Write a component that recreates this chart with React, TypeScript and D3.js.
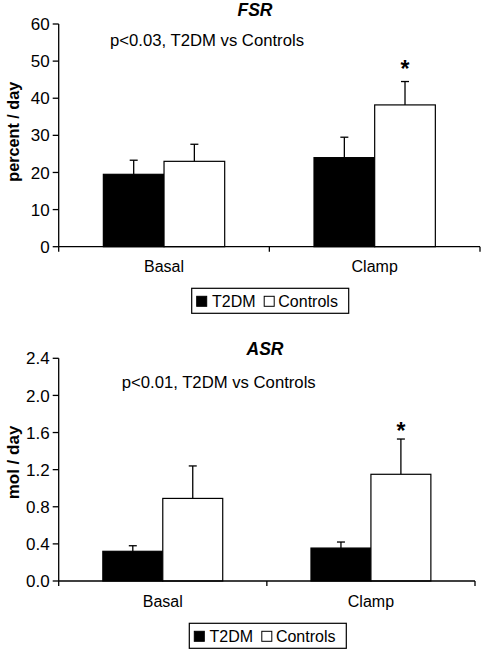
import React from "react";
import * as d3 from "d3";

const categories = ["Basal", "Clamp"];
const seriesNames = ["T2DM", "Controls"];

const fsrT2DM = [19.5, 24.0];
const fsrT2DMErr = [3.8, 5.5];
const fsrControls = [23.0, 38.2];
const fsrControlsErr = [4.6, 6.3];
const fsrTicks = [0, 10, 20, 30, 40, 50, 60];

const asrT2DM = [0.32, 0.355];
const asrT2DMErr = [0.06, 0.065];
const asrControls = [0.89, 1.15];
const asrControlsErr = [0.35, 0.38];
const asrTicks = [0, 0.4, 0.8, 1.2, 1.6, 2.0, 2.4];

const FONT = "Liberation Sans, Arial, sans-serif";

type PanelProps = {
  top: number;
  bottom: number;
  left: number;
  right: number;
  yMax: number;
  ticks: number[];
  tickFmt: (v: number) => string;
  title: string;
  titleX: number;
  titleY: number;
  yLabel: string;
  yLabelY: number;
  yLabelSize: number;
  note: string;
  noteX: number;
  noteY: number;
  catY: number;
  legendX: number;
  legendY: number;
  t2dm: number[];
  t2dmErr: number[];
  controls: number[];
  controlsErr: number[];
  starIndex: number;
  starDy: number;
};

function Panel(p: PanelProps) {
  const y = d3.scaleLinear().domain([0, p.yMax]).range([p.bottom, p.top]);
  const x0 = d3.scaleBand<string>().domain(categories).range([p.left, p.right]).paddingInner(0.424).paddingOuter(0.212);
  const x1 = d3.scaleBand<string>().domain(seriesNames).range([0, x0.bandwidth()]);
  const series = [
    { name: "T2DM", vals: p.t2dm, errs: p.t2dmErr, fill: "#000" },
    { name: "Controls", vals: p.controls, errs: p.controlsErr, fill: "#fff" },
  ];
  const catW = (p.right - p.left) / categories.length;
  return (
    <g fontFamily={FONT}>
      <text x={p.titleX} y={p.titleY} textAnchor="middle" fontWeight="bold" fontStyle="italic" fontSize={17.5}>{p.title}</text>
      <text x={p.noteX} y={p.noteY} fontSize={16.7}>{p.note}</text>
      {/* y axis */}
      <line x1={p.left} x2={p.left} y1={p.top} y2={p.bottom} stroke="#000" strokeWidth={1.3} />
      {p.ticks.map((t) => (
        <g key={t}>
          <line x1={p.left - 6} x2={p.left} y1={y(t)} y2={y(t)} stroke="#000" strokeWidth={1.3} />
          <text x={p.left - 9} y={y(t)} dy="0.36em" textAnchor="end" fontSize={17}>{p.tickFmt(t)}</text>
        </g>
      ))}
      <text transform={`translate(${18.5},${p.yLabelY}) rotate(-90)`} textAnchor="middle" fontWeight="bold" fontSize={p.yLabelSize}>{p.yLabel}</text>
      {/* bars */}
      {categories.map((c, i) => (
        <g key={c}>
          {series.map((s) => {
            const bx = (x0(c) as number) + (x1(s.name) as number);
            const bw = x1.bandwidth();
            const cx = bx + bw / 2;
            const yt = y(s.vals[i]);
            const ye = y(s.vals[i] + s.errs[i]);
            return (
              <g key={s.name}>
                <line x1={cx} x2={cx} y1={yt} y2={ye} stroke="#000" strokeWidth={1.3} />
                <line x1={cx - 4} x2={cx + 4} y1={ye} y2={ye} stroke="#000" strokeWidth={1.3} />
                <rect x={bx} y={yt} width={bw} height={p.bottom - yt} fill={s.fill} stroke="#000" strokeWidth={1.2} />
              </g>
            );
          })}
          <text x={(x0(c) as number) + x0.bandwidth() / 2} y={p.catY} textAnchor="middle" fontSize={16}>{c}</text>
        </g>
      ))}
      {/* star */}
      {(() => {
        const c = categories[p.starIndex];
        const cx = (x0(c) as number) + (x1("Controls") as number) + x1.bandwidth() / 2;
        const ye = y(p.controls[p.starIndex] + p.controlsErr[p.starIndex]);
        return <text x={cx} y={ye + p.starDy} textAnchor="middle" fontSize={23} fontWeight="bold">*</text>;
      })()}
      {/* x axis */}
      <line x1={p.left} x2={p.right} y1={p.bottom} y2={p.bottom} stroke="#000" strokeWidth={1.3} />
      {[0, 1, 2].map((k) => (
        <line key={k} x1={p.left + k * catW} x2={p.left + k * catW} y1={p.bottom} y2={p.bottom + 5} stroke="#000" strokeWidth={1.3} />
      ))}
      {/* legend */}
      <rect x={p.legendX} y={p.legendY} width={157} height={25} fill="#fff" stroke="#000" strokeWidth={1.2} />
      <rect x={p.legendX + 5} y={p.legendY + 8} width={10} height={10} fill="#000" stroke="#000" />
      <text x={p.legendX + 20.3} y={p.legendY + 19} fontSize={16}>T2DM</text>
      <rect x={p.legendX + 72.5} y={p.legendY + 8} width={10} height={10} fill="#fff" stroke="#000" />
      <text x={p.legendX + 86.6} y={p.legendY + 19} fontSize={16}>Controls</text>
    </g>
  );
}

export default function App() {
  return (
    <svg width={482} height={650} style={{ position: "absolute", left: 0, top: 0, background: "#fff" }}>
      <rect width={482} height={650} fill="#fff" />
      <Panel
        top={24} bottom={246.7} left={58.7} right={480} yMax={60}
        ticks={fsrTicks} tickFmt={(v) => String(v)}
        title="FSR" titleX={255} titleY={16}
        yLabel="percent / day" yLabelY={131.7} yLabelSize={16.2}
        note="p<0.03, T2DM vs Controls" noteX={110} noteY={46}
        catY={271.7} legendX={191.7} legendY={288.3}
        t2dm={fsrT2DM} t2dmErr={fsrT2DMErr} controls={fsrControls} controlsErr={fsrControlsErr}
        starIndex={1} starDy={-5}
      />
      <Panel
        top={358.3} bottom={581} left={58.7} right={475} yMax={2.4}
        ticks={asrTicks} tickFmt={(v) => v.toFixed(1)}
        title="ASR" titleX={265} titleY={355}
        yLabel="mol / day" yLabelY={462.5} yLabelSize={17}
        note="p<0.01, T2DM vs Controls" noteX={121.7} noteY={388}
        catY={607} legendX={189.3} legendY={623.3}
        t2dm={asrT2DM} t2dmErr={asrT2DMErr} controls={asrControls} controlsErr={asrControlsErr}
        starIndex={1} starDy={0}
      />
    </svg>
  );
}
